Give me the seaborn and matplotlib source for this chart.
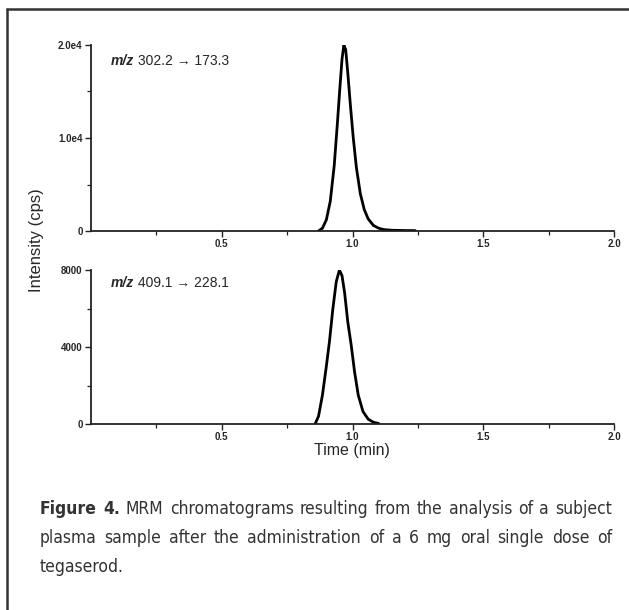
import numpy as np
import pandas as pd
import matplotlib
matplotlib.use("Agg")
import matplotlib.pyplot as plt
from matplotlib.ticker import FixedLocator
from matplotlib.lines import Line2D
import seaborn as sns

# ---- data ----
t_top = [0.870, 0.885, 0.900, 0.915, 0.930, 0.942, 0.952, 0.960, 0.967, 0.974,
         0.982, 0.992, 1.003, 1.015, 1.030, 1.045, 1.060, 1.080, 1.100, 1.120,
         1.150, 1.200, 1.240]
i_top = [0, 300, 1200, 3200, 7000, 11500, 15500, 18500, 20000, 19500,
         17000, 13500, 10000, 6800, 4000, 2300, 1300, 600, 300, 150,
         80, 50, 40]
t_bot = [0.857, 0.870, 0.885, 0.900, 0.912, 0.925, 0.938, 0.950, 0.960, 0.970,
         0.982, 0.995, 1.008, 1.022, 1.040, 1.060, 1.080, 1.100]
i_bot = [0, 400, 1500, 3000, 4300, 6000, 7400, 8000, 7700, 6800,
         5300, 4100, 2700, 1500, 650, 250, 90, 30]

xticks_major = [0.5, 1.0, 1.5, 2.0]
xticks_minor = [0.25, 0.75, 1.25, 1.75]
top_yticks = [0, 10000, 20000]
top_ylabels = ["0", "1.0e4", "2.0e4"]
top_yminor = [5000, 15000]
bot_yticks = [0, 4000, 8000]
bot_ylabels = ["0", "4000", "8000"]
bot_yminor = [2000, 6000]
top_label = ("m/z", " 302.2 \u2192 173.3")
bot_label = ("m/z", " 409.1 \u2192 228.1")
xlabel = "Time (min)"
ylabel = "Intensity (cps)"
caption = [
    [("Figure", True), ("4.", True), ("MRM", False), ("chromatograms", False), ("resulting", False),
     ("from", False), ("the", False), ("analysis", False), ("of", False), ("a", False), ("subject", False)],
    [("plasma", False), ("sample", False), ("after", False), ("the", False), ("administration", False),
     ("of", False), ("a", False), ("6", False), ("mg", False), ("oral", False), ("single", False),
     ("dose", False), ("of", False)],
    [("tegaserod.", False)],
]

sns.set_style("ticks")
plt.rcParams['font.family'] = ['Liberation Sans', 'DejaVu Sans']

W, H = 629, 610
fig = plt.figure(figsize=(W / 100, H / 100), dpi=100)

def fx(px):
    return px / W

def fy(py):
    return 1 - py / H

x0, x1 = 91, 614
ax_top = fig.add_axes([fx(x0), fy(231), fx(x1) - fx(x0), fy(45) - fy(231)])
ax_bot = fig.add_axes([fx(x0), fy(424), fx(x1) - fx(x0), fy(270) - fy(424)])

df_top = pd.DataFrame({"t": t_top, "i": i_top})
df_bot = pd.DataFrame({"t": t_bot, "i": i_bot})
sns.lineplot(data=df_top, x="t", y="i", ax=ax_top, color="black", lw=2.0, sort=False)
sns.lineplot(data=df_bot, x="t", y="i", ax=ax_bot, color="black", lw=2.0, sort=False)

for ax, yt, yl, ym, ymax, lab in [
    (ax_top, top_yticks, top_ylabels, top_yminor, 20000, top_label),
    (ax_bot, bot_yticks, bot_ylabels, bot_yminor, 8000, bot_label),
]:
    ax.set_xlim(0, 2.0)
    ax.set_ylim(0, ymax)
    sns.despine(ax=ax)
    for s in ["left", "bottom"]:
        ax.spines[s].set_linewidth(1.3)
        ax.spines[s].set_color("#222222")
    ax.xaxis.set_major_locator(FixedLocator(xticks_major))
    ax.xaxis.set_minor_locator(FixedLocator(xticks_minor))
    ax.set_xticklabels([f"{v:.1f}" for v in xticks_major], fontsize=7, fontweight="bold")
    ax.yaxis.set_major_locator(FixedLocator(yt))
    ax.yaxis.set_minor_locator(FixedLocator(ym))
    ax.set_yticklabels(yl, fontsize=7, fontweight="bold")
    ax.tick_params(which="major", length=4, width=1.0, pad=2, color="#222222")
    ax.tick_params(which="minor", length=3, width=0.9, color="#222222")
    ax.set_xlabel("")
    ax.set_ylabel("")
    ax.set_facecolor("none")
    t1 = ax.text(0.037, 0.915, lab[0], transform=ax.transAxes, fontsize=10,
                 fontweight="bold", fontstyle="italic", va="center", ha="left")
    fig.canvas.draw()
    bb = t1.get_window_extent()
    ax.annotate(lab[1], xy=(bb.x1, (bb.y0 + bb.y1) / 2), xycoords="figure pixels",
                fontsize=10, va="center", ha="left")

fig.text(fx(352), fy(451), xlabel, fontsize=11.5, ha="center", va="center")
fig.text(fx(37), fy(240), ylabel, fontsize=12, ha="center", va="center", rotation=90)

# frame lines of the figure panel
fig.add_artist(Line2D([fx(7), 1.0], [fy(8.5), fy(8.5)], transform=fig.transFigure, color="#333333", lw=1.8))
fig.add_artist(Line2D([fx(7), fx(7)], [fy(8.5), 0.0], transform=fig.transFigure, color="#333333", lw=1.8))

# caption with justified lines
cap_font = ['DejaVu Sans']
cap_color = "#333333"
left_px, right_px = 40, 612
baselines = [514, 543, 572]
renderer = fig.canvas.get_renderer()
for li, words in enumerate(caption):
    widths = []
    for w, b in words:
        tt = fig.text(0, 0, w, fontsize=12.5, family=cap_font, fontstretch="condensed",
                      fontweight="bold" if b else "normal")
        widths.append(tt.get_window_extent(renderer).width)
        tt.remove()
    n = len(words)
    if li < len(caption) - 1 and n > 1:
        gap = (right_px - left_px - sum(widths)) / (n - 1)
    else:
        gap = 4
    x = left_px
    for (w, b), wd in zip(words, widths):
        fig.text(fx(x), fy(baselines[li]), w, fontsize=12.5, family=cap_font, fontstretch="condensed",
                 fontweight="bold" if b else "normal", color=cap_color, ha="left", va="baseline")
        x += wd + gap

fig.savefig("out.png", dpi=100, facecolor="white")
